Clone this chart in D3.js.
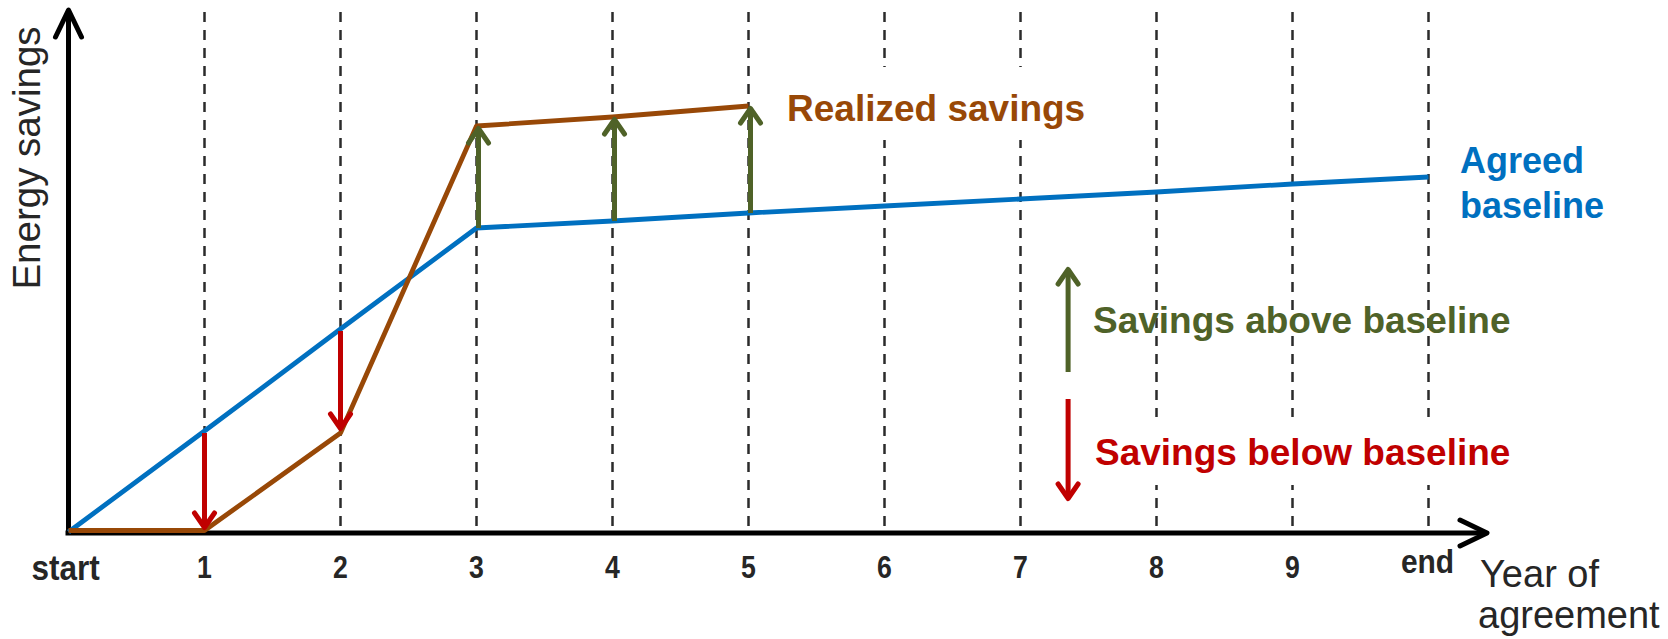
<!DOCTYPE html>
<html>
<head>
<meta charset="utf-8">
<script src="https://cdn.jsdelivr.net/npm/d3@7"></script>
<style>
  html, body { margin: 0; padding: 0; background: #fff; }
  svg { display: block; }
  text { font-family: "Liberation Sans", Arial, sans-serif; }
</style>
</head>
<body>
<script>
// ---- data ----
const tickLabels = ["start", "1", "2", "3", "4", "5", "6", "7", "8", "9", "end"];
const years = [0, 1, 2, 3, 4, 5, 6, 7, 8, 9, 10];
const agreedBaseline = [0, 20.2, 40.6, 60.8, 62.2, 63.8, 65.2, 66.6, 68.0, 69.6, 71.0];
const realizedYears = [0, 1, 2, 3, 4, 5];
const realizedSavings = [0, 0, 19.8, 81.2, 83.0, 85.2];
const belowYears = [1, 2];
const aboveYears = [3, 4, 5];

// ---- setup ----
const W = 1668, H = 639;
const svg = d3.select("body").append("svg").attr("width", W).attr("height", H);

const x = d3.scaleLinear().domain([0, 10]).range([68.5, 1428.5]);
const y = d3.scaleLinear().domain([0, 100]).range([532, 32]);

const C = {
  blue: "#0070C0", brown: "#984807", green: "#4F6228", red: "#C00000",
  axis: "#000", grid: "#2b2b2b", text: "#262626"
};

// ---- gridlines ----
svg.append("g").selectAll("line").data(years.slice(1)).join("line")
  .attr("x1", d => x(d)).attr("x2", d => x(d))
  .attr("y1", 12).attr("y2", y(0))
  .attr("stroke", C.grid).attr("stroke-width", 2.5)
  .attr("stroke-dasharray", "10,8");

// white boxes behind some labels (they hide the gridlines)
svg.append("rect").attr("x", 778).attr("y", 67).attr("width", 330).attr("height", 73).attr("fill", "#fff");
svg.append("rect").attr("x", 1090).attr("y", 417).attr("width", 430).attr("height", 68).attr("fill", "#fff");

// ---- axes ----
const axisG = svg.append("g").attr("stroke", C.axis).attr("fill", "none")
  .attr("stroke-width", 5).attr("stroke-linecap", "round").attr("stroke-linejoin", "round");
// x axis
axisG.append("line").attr("x1", x(0) - 3).attr("x2", 1486).attr("y1", y(0) + 1).attr("y2", y(0) + 1).attr("stroke-linecap", "butt");
axisG.append("path").attr("d", `M${1460},${y(0) + 1 - 13} L${1487},${y(0) + 1} L${1460},${y(0) + 1 + 13}`);
// y axis
axisG.append("line").attr("x1", x(0)).attr("x2", x(0)).attr("y1", y(0) + 3).attr("y2", 11).attr("stroke-linecap", "butt");
axisG.append("path").attr("d", `M${x(0) - 13},${37} L${x(0)},${10} L${x(0) + 13},${37}`);

// ---- series lines ----
const line = d3.line().x(d => x(d[0])).y(d => y(d[1]));
svg.append("path")
  .datum(years.map((yr, i) => [yr, agreedBaseline[i]]))
  .attr("d", line).attr("fill", "none").attr("stroke", C.blue)
  .attr("stroke-width", 4.8).attr("stroke-linejoin", "round");
svg.append("path")
  .datum(realizedYears.map((yr, i) => [yr, realizedSavings[i]]))
  .attr("d", d3.line().x(d => x(d[0])).y(d => y(d[1]) - (d[1] === 0 ? 1.5 : 0)))
  .attr("fill", "none").attr("stroke", C.brown)
  .attr("stroke-width", 4.8).attr("stroke-linejoin", "round");

// ---- arrows ----
function arrow(g, x0, yFrom, yTo, color) {
  const dir = yTo < yFrom ? -1 : 1;
  g.append("line").attr("x1", x0).attr("x2", x0).attr("y1", yFrom).attr("y2", yTo - dir * 2)
    .attr("stroke", color).attr("stroke-width", 5);
  g.append("path")
    .attr("d", `M${x0 - 10},${yTo - dir * 16} L${x0},${yTo - dir * 1.5} L${x0 + 10},${yTo - dir * 16}`)
    .attr("fill", "none").attr("stroke", color).attr("stroke-width", 5)
    .attr("stroke-linecap", "round").attr("stroke-linejoin", "round");
}
const arrowsG = svg.append("g");
belowYears.forEach(yr => {
  arrow(arrowsG, x(yr), y(agreedBaseline[yr]) + 2, y(realizedSavings[yr]) - 3, C.red);
});
aboveYears.forEach(yr => {
  arrow(arrowsG, x(yr) + 2, y(agreedBaseline[yr]), y(realizedSavings[yr]) + 1, C.green);
});
// legend arrows
arrow(arrowsG, x(7.35), y(32), y(52.8), C.green);
arrow(arrowsG, x(7.35), y(26.6), y(6.4), C.red);

// ---- tick labels (slightly condensed bold) ----
const tickG = svg.append("g").attr("fill", C.text).attr("font-weight", "bold").attr("text-anchor", "middle");
tickG.selectAll("text").data(years).join("text")
  .attr("transform", d => {
    const tx = d === 0 ? x(d) - 3 : (d === 10 ? x(d) - 1 : x(d));
    const ty = d === 0 ? 580 : (d === 10 ? 573 : 578);
    const sx = d === 0 ? 0.9 : (d === 10 ? 0.88 : 0.86);
    return `translate(${tx},${ty}) scale(${sx},1)`;
  })
  .attr("font-size", d => d === 0 ? 35 : (d === 10 ? 34 : 31))
  .text((d, i) => tickLabels[i]);

// ---- axis titles ----
svg.append("text")
  .attr("transform", `translate(40,158) rotate(-90)`)
  .attr("text-anchor", "middle").attr("font-size", 38.5).attr("fill", C.text)
  .text("Energy savings");
const xt = svg.append("text").attr("font-size", 38).attr("fill", C.text);
xt.append("tspan").attr("x", 1480).attr("y", 587).text("Year of");
xt.append("tspan").attr("x", 1478).attr("y", 628).text("agreement");

// ---- annotations ----
svg.append("text").attr("x", 787).attr("y", 121).attr("font-size", 37).attr("font-weight", "bold")
  .attr("fill", C.brown).text("Realized savings");
const ag = svg.append("text").attr("font-size", 36).attr("font-weight", "bold").attr("fill", C.blue);
ag.append("tspan").attr("x", 1460).attr("y", 173).text("Agreed");
ag.append("tspan").attr("x", 1460).attr("y", 218).text("baseline");
svg.append("text").attr("x", 1093).attr("y", 333).attr("font-size", 37).attr("font-weight", "bold")
  .attr("fill", C.green).text("Savings above baseline");
svg.append("text").attr("x", 1095).attr("y", 465).attr("font-size", 37).attr("font-weight", "bold")
  .attr("fill", C.red).text("Savings below baseline");
</script>
</body>
</html>
